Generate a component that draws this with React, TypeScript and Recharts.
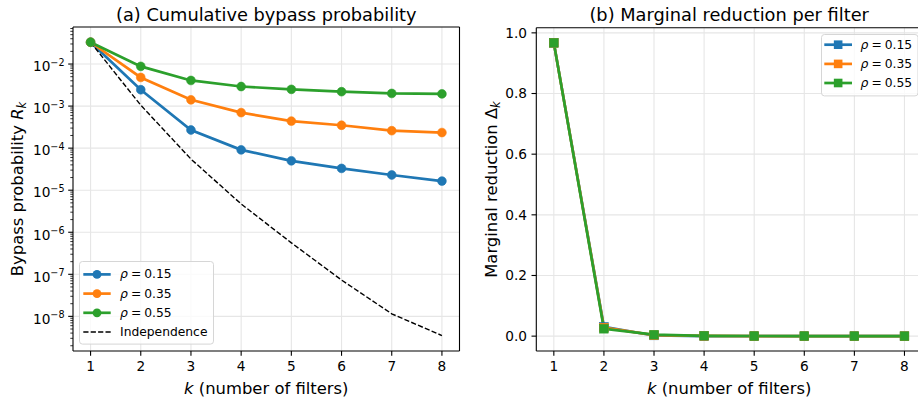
import React from "react";
import { LineChart, Line, XAxis, YAxis, CartesianGrid } from "recharts";

const FONT = "'DejaVu Sans', sans-serif";

const kValues = [1, 2, 3, 4, 5, 6, 7, 8];

// (a) cumulative bypass probability R_k
const rho015 = [3.3e-2, 2.45e-3, 2.7e-4, 9.1e-5, 5.0e-5, 3.3e-5, 2.3e-5, 1.65e-5];
const rho035 = [3.3e-2, 4.8e-3, 1.41e-3, 7.0e-4, 4.4e-4, 3.5e-4, 2.6e-4, 2.35e-4];
const rho055 = [3.3e-2, 8.8e-3, 4.07e-3, 2.92e-3, 2.5e-3, 2.2e-3, 2.0e-3, 1.95e-3];
const independence = [3.3e-2, 1.05e-3, 5.5e-5, 4.7e-6, 5.6e-7, 7.3e-8, 1.15e-8, 3.5e-9];

// (b) marginal reduction per filter
const delta015 = [0.967, 0.0306, 0.0022, 0.00018, 0.00004, 0.000017, 0.00001, 0.000007];
const delta035 = [0.967, 0.0282, 0.0034, 0.00071, 0.00026, 0.00009, 0.00009, 0.000025];
const delta055 = [0.967, 0.0242, 0.0047, 0.00115, 0.00042, 0.0003, 0.0002, 0.00005];

const kTicks = [1, 2, 3, 4, 5, 6, 7, 8];
const logMajorTicks = [1e-8, 1e-7, 1e-6, 1e-5, 1e-4, 1e-3, 1e-2];
const logMinorMantissas = [2, 3, 4, 5, 6, 7, 8, 9];
const logMinorDecades = [1e-9, 1e-8, 1e-7, 1e-6, 1e-5, 1e-4, 1e-3, 1e-2];
const deltaTicks = [0, 0.2, 0.4, 0.6, 0.8, 1.0];

const logDomain = [1.5e-9, 0.076];
const kDomain = [0.65, 8.35];
const deltaDomain = [-0.049, 1.017];

const logTicks = [
  ...logMajorTicks,
  ...logMinorDecades.flatMap((d) => logMinorMantissas.map((m) => m * d)),
].filter((v) => v >= logDomain[0] && v <= logDomain[1]);

const series = [
  { key: "r015", label: "0.15", color: "#1f77b4" },
  { key: "r035", label: "0.35", color: "#ff7f0e" },
  { key: "r055", label: "0.55", color: "#2ca02c" },
];

const bypassData = kValues.map((k, i) => ({
  k,
  r015: rho015[i],
  r035: rho035[i],
  r055: rho055[i],
  ind: independence[i],
}));

const deltaData = kValues.map((k, i) => ({
  k,
  r015: delta015[i],
  r035: delta035[i],
  r055: delta055[i],
}));

const spine = { stroke: "#000", strokeWidth: 1.1 };
const tickStyle = { fontSize: 13.7, fill: "#000", fontFamily: FONT };

const LogTick = (props: any) => {
  const { x, y, payload } = props;
  const e = Math.log10(payload.value);
  const major = Math.abs(e - Math.round(e)) < 1e-6;
  return (
    <g>
      <line
        x1={x}
        x2={x - (major ? 4.8 : 2.7)}
        y1={y}
        y2={y}
        stroke="#000"
        strokeWidth={major ? 1.1 : 0.8}
      />
      {major && (
        <text
          x={x - 8.5}
          y={y + 7.3}
          textAnchor="end"
          fontSize={13.7}
          fill="#000"
          fontFamily={FONT}
        >
          10
          <tspan dy={-5.8} fontSize={9.6}>
            {"\u2212" + String(-Math.round(e))}
          </tspan>
        </text>
      )}
    </g>
  );
};

const squareDot = (color: string) => (props: any) => {
  const { cx, cy, index } = props;
  return (
    <rect
      key={`sq-${color}-${index}`}
      x={cx - 4.3}
      y={cy - 4.3}
      width={8.6}
      height={8.6}
      fill={color}
      stroke={color}
      strokeWidth={0.6}
    />
  );
};

const RhoText = ({ x, y, label }: { x: number; y: number; label: string }) => (
  <text x={x} y={y} fontSize={12.3} fontFamily={FONT} fill="#000" dominantBaseline="central">
    <tspan fontStyle="italic">ρ</tspan>
    <tspan>{"\u2005=\u2005" + label}</tspan>
  </text>
);

const BypassLegend = () => {
  const rows = [13.4, 32.6, 51.8, 71.0];
  return (
    <svg
      width={136}
      height={84}
      style={{ position: "absolute", left: 79, top: 261, overflow: "visible" }}
    >
      <rect x={0.5} y={0.5} width={134} height={82.6} rx={3} fill="#fff" fillOpacity={0.8} stroke="#d6d6d6" />
      {series.map((s, i) => (
        <g key={s.key}>
          <line x1={4.3} x2={31.7} y1={rows[i]} y2={rows[i]} stroke={s.color} strokeWidth={2.7} />
          <circle cx={18} cy={rows[i]} r={4.4} fill={s.color} />
          <RhoText x={41} y={rows[i]} label={s.label} />
        </g>
      ))}
      <line x1={4.3} x2={31.7} y1={rows[3]} y2={rows[3]} stroke="#000" strokeWidth={1.4} strokeDasharray="5.2 2.2" />
      <text x={41} y={rows[3]} fontSize={12.3} fontFamily={FONT} fill="#000" dominantBaseline="central">
        Independence
      </text>
    </svg>
  );
};

const DeltaLegend = () => {
  const rows = [10.7, 29.9, 49.0];
  return (
    <svg
      width={98}
      height={63}
      style={{ position: "absolute", left: 821, top: 34, overflow: "visible" }}
    >
      <rect x={0.5} y={0.5} width={96.5} height={61.4} rx={3} fill="#fff" fillOpacity={0.8} stroke="#d6d6d6" />
      {series.map((s, i) => (
        <g key={s.key}>
          <line x1={3.3} x2={31} y1={rows[i]} y2={rows[i]} stroke={s.color} strokeWidth={2.7} />
          <rect x={17.15 - 4.3} y={rows[i] - 4.3} width={8.6} height={8.6} fill={s.color} />
          <RhoText x={39.5} y={rows[i]} label={s.label} />
        </g>
      ))}
    </svg>
  );
};

const Labels = () => (
  <svg
    width={918}
    height={399}
    style={{ position: "absolute", left: 0, top: 0, pointerEvents: "none" }}
    fontFamily={FONT}
  >
    <text x={266.3} y={21} fontSize={17.8} textAnchor="middle" fill="#000">
      (a) Cumulative bypass probability
    </text>
    <text x={729.2} y={21} fontSize={17.8} textAnchor="middle" fill="#000">
      (b) Marginal reduction per filter
    </text>
    <text x={266.3} y={393.5} fontSize={16.4} textAnchor="middle" fill="#000">
      <tspan fontStyle="italic">k</tspan> (number of filters)
    </text>
    <text x={729.2} y={393.5} fontSize={16.4} textAnchor="middle" fill="#000">
      <tspan fontStyle="italic">k</tspan> (number of filters)
    </text>
    <text
      transform="translate(23, 189) rotate(-90)"
      fontSize={16.4}
      textAnchor="middle"
      fill="#000"
    >
      Bypass probability <tspan fontStyle="italic">R</tspan>
      <tspan fontStyle="italic" fontSize={11.5} dy={3}>
        k
      </tspan>
    </text>
    <text
      transform="translate(497, 189.5) rotate(-90)"
      fontSize={16.4}
      textAnchor="middle"
      fill="#000"
    >
      Marginal reduction Δ
      <tspan fontStyle="italic" fontSize={11.5} dy={3}>
        k
      </tspan>
    </text>
  </svg>
);

const BypassChart = () => (
  <div style={{ position: "absolute", left: 0, top: 0 }}>
    <LineChart width={470} height={399} data={bypassData} margin={{ top: 26, right: 9.5, bottom: 0, left: 0 }}>
      <CartesianGrid
        xAxisId="x"
        yAxisId="y"
        stroke="#e6e6e6"
        strokeWidth={1.1}
        horizontalValues={logMajorTicks}
        verticalValues={kTicks}
      />
      <XAxis
        xAxisId="x"
        dataKey="k"
        type="number"
        domain={kDomain}
        allowDataOverflow
        ticks={kTicks}
        interval={0}
        height={48}
        tickSize={4.8}
        tickMargin={5.5}
        tick={tickStyle}
        tickLine={spine}
        axisLine={spine}
      />
      <XAxis
        xAxisId="xt"
        orientation="top"
        type="number"
        domain={kDomain}
        allowDataOverflow
        height={1}
        tick={false}
        tickLine={false}
        axisLine={spine}
      />
      <YAxis
        yAxisId="y"
        width={73}
        type="number"
        scale="log"
        domain={logDomain}
        allowDataOverflow
        ticks={logTicks}
        interval={0}
        tickSize={0}
        tickMargin={0}
        tickLine={false}
        tick={(p: any) => <LogTick {...p} />}
        axisLine={spine}
      />
      <YAxis
        yAxisId="yr"
        orientation="right"
        width={1}
        type="number"
        domain={[0, 1]}
        tick={false}
        tickLine={false}
        axisLine={spine}
      />
      {series.map((s) => (
        <Line
          key={s.key}
          xAxisId="x"
          yAxisId="y"
          type="linear"
          dataKey={s.key}
          stroke={s.color}
          strokeWidth={2.7}
          dot={{ r: 4.4, fill: s.color, stroke: s.color, strokeWidth: 0.6 }}
          activeDot={false}
          isAnimationActive={false}
        />
      ))}
      <Line
        xAxisId="x"
        yAxisId="y"
        type="linear"
        dataKey="ind"
        stroke="#000"
        strokeWidth={1.4}
        strokeDasharray="5.2 2.2"
        dot={false}
        activeDot={false}
        isAnimationActive={false}
      />
    </LineChart>
  </div>
);

const DeltaChart = () => (
  <div style={{ position: "absolute", left: 460, top: 0 }}>
    <LineChart width={475} height={399} data={deltaData} margin={{ top: 26.7, right: 12, bottom: 0, left: 0 }}>
      <CartesianGrid xAxisId="x" yAxisId="y" stroke="#e6e6e6" strokeWidth={1.1} verticalValues={kTicks} horizontalValues={deltaTicks} />
      <XAxis
        xAxisId="x"
        dataKey="k"
        type="number"
        domain={kDomain}
        allowDataOverflow
        ticks={kTicks}
        interval={0}
        height={48}
        tickSize={4.8}
        tickMargin={5.5}
        tick={tickStyle}
        tickLine={spine}
        axisLine={spine}
      />
      <XAxis
        xAxisId="xt"
        orientation="top"
        type="number"
        domain={kDomain}
        allowDataOverflow
        height={1}
        tick={false}
        tickLine={false}
        axisLine={spine}
      />
      <YAxis
        yAxisId="y"
        width={76.3}
        type="number"
        domain={deltaDomain}
        allowDataOverflow
        ticks={deltaTicks}
        interval={0}
        tickSize={4.8}
        tickMargin={4.5}
        tickFormatter={(v: number) => v.toFixed(1)}
        tick={tickStyle}
        tickLine={spine}
        axisLine={spine}
      />
      <YAxis
        yAxisId="yr"
        orientation="right"
        width={1}
        type="number"
        domain={[0, 1]}
        tick={false}
        tickLine={false}
        axisLine={spine}
      />
      {series.map((s) => (
        <Line
          key={s.key}
          xAxisId="x"
          yAxisId="y"
          type="linear"
          dataKey={s.key}
          stroke={s.color}
          strokeWidth={2.7}
          dot={squareDot(s.color)}
          activeDot={false}
          isAnimationActive={false}
        />
      ))}
    </LineChart>
  </div>
);

export default function App() {
  return (
    <div
      style={{
        position: "absolute",
        left: 0,
        top: 0,
        width: 918,
        height: 399,
        overflow: "hidden",
        background: "#fff",
        fontFamily: FONT,
      }}
    >
      <BypassChart />
      <DeltaChart />
      <Labels />
      <BypassLegend />
      <DeltaLegend />
    </div>
  );
}
